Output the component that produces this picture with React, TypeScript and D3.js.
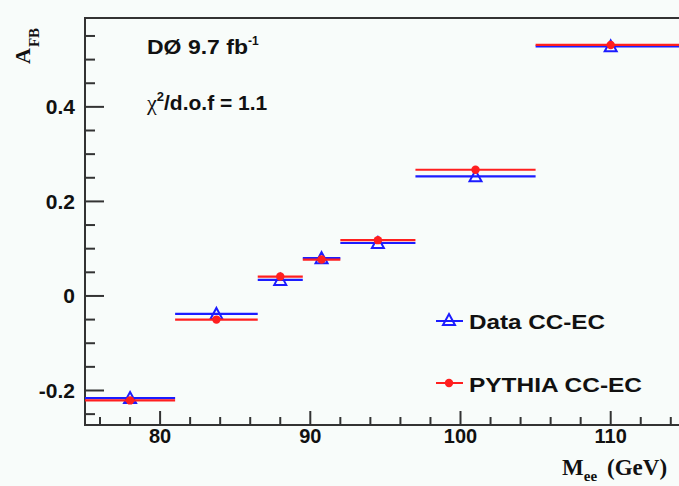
import { useEffect, useRef } from "react";
import * as d3 from "d3";

// bin edges in M_ee (GeV) and the measured / simulated A_FB per bin
const binEdges = [75, 81, 86.5, 89.5, 92, 97, 105, 115];
const binCenters = [78, 83.75, 88, 90.75, 94.5, 101, 110];
const dataAfb = [-0.216, -0.038, 0.034, 0.08, 0.112, 0.253, 0.528];
const pythiaAfb = [-0.221, -0.05, 0.041, 0.077, 0.118, 0.267, 0.531];
const xMajorTicks = [80, 90, 100, 110];
const yMajorTicks = [-0.2, 0, 0.2, 0.4];
const yTickLabels = ["-0.2", "0", "0.2", "0.4"];

const W = 679;
const H = 486;
const BLUE = "#1c1cff";
const RED = "#ff1f1f";
const SANS = "'Liberation Sans', Arial, Helvetica, sans-serif";
const SERIF = "'Liberation Serif', 'Times New Roman', serif";

export default function App() {
  const ref = useRef<SVGSVGElement | null>(null);

  useEffect(() => {
    if (!ref.current) return;
    const svg = d3.select(ref.current);
    svg.selectAll("*").remove();

    const left = 85, top = 18, bottom = 425;
    const x = d3.scaleLinear().domain([75, 115]).range([left, left + 40 * 15.02]);
    const y = d3.scaleLinear().domain([-0.273, 0.588]).range([bottom, top]);

    svg.append("rect").attr("width", W).attr("height", H).attr("fill", "#f8fcfa");

    // frame
    const axisColor = "#333";
    svg.append("line").attr("x1", left).attr("x2", W).attr("y1", top).attr("y2", top)
      .attr("stroke", axisColor).attr("stroke-width", 2);
    svg.append("line").attr("x1", left).attr("x2", W).attr("y1", bottom).attr("y2", bottom)
      .attr("stroke", axisColor).attr("stroke-width", 2);
    svg.append("line").attr("x1", left).attr("x2", left).attr("y1", top - 1).attr("y2", bottom + 1)
      .attr("stroke", axisColor).attr("stroke-width", 2);

    // y ticks
    const yMinor = d3.range(-0.25, 0.5501, 0.05).map(v => Math.round(v * 100) / 100);
    svg.append("g").selectAll("line").data(yMinor).join("line")
      .attr("x1", left).attr("y1", d => y(d)).attr("y2", d => y(d))
      .attr("x2", d => (yMajorTicks.some(m => Math.abs(m - d) < 1e-6) ? left + 19 : left + 10))
      .attr("stroke", axisColor).attr("stroke-width", 2);
    svg.append("g").selectAll("text").data(yMajorTicks).join("text")
      .attr("x", 75).attr("y", d => y(d) + 7.5)
      .attr("text-anchor", "end").attr("font-family", SANS).attr("font-weight", "bold")
      .attr("font-size", 21).attr("fill", "#111")
      .text((_, i) => yTickLabels[i]);

    // x ticks
    const xMinor = d3.range(76, 115, 2);
    svg.append("g").selectAll("line").data(xMinor).join("line")
      .attr("x1", d => x(d)).attr("x2", d => x(d)).attr("y1", bottom)
      .attr("y2", d => (d % 10 === 0 ? bottom - 14 : bottom - 8))
      .attr("stroke", axisColor).attr("stroke-width", 2);
    svg.append("g").selectAll("text").data(xMajorTicks).join("text")
      .attr("x", d => x(d)).attr("y", 443)
      .attr("text-anchor", "middle").attr("font-family", SANS).attr("font-weight", "bold")
      .attr("font-size", 20).attr("fill", "#111")
      .text(d => String(d));

    // series
    const drawSeries = (vals: number[], color: string, marker: "tri" | "dot") => {
      const g = svg.append("g");
      g.selectAll("line").data(vals).join("line")
        .attr("x1", (_, i) => x(binEdges[i])).attr("x2", (_, i) => x(binEdges[i + 1]))
        .attr("y1", d => y(d)).attr("y2", d => y(d))
        .attr("stroke", color).attr("stroke-width", 2.2);
      if (marker === "tri") {
        g.selectAll("path").data(vals).join("path")
          .attr("d", "M0,-6 L6,5 L-6,5 Z")
          .attr("transform", (d, i) => `translate(${x(binCenters[i])},${y(d)})`)
          .attr("fill", "none").attr("stroke", color).attr("stroke-width", 2);
      } else {
        g.selectAll("circle").data(vals).join("circle")
          .attr("cx", (_, i) => x(binCenters[i])).attr("cy", d => y(d)).attr("r", 4.2)
          .attr("fill", color);
      }
    };
    drawSeries(dataAfb, BLUE, "tri");
    drawSeries(pythiaAfb, RED, "dot");

    // legend
    const lx1 = 436, lx2 = 463, lmx = 449;
    svg.append("line").attr("x1", lx1).attr("x2", lx2).attr("y1", 321).attr("y2", 321)
      .attr("stroke", BLUE).attr("stroke-width", 2);
    svg.append("path").attr("d", "M0,-6 L6,5 L-6,5 Z").attr("transform", `translate(${lmx},320)`)
      .attr("fill", "none").attr("stroke", BLUE).attr("stroke-width", 2);
    svg.append("line").attr("x1", lx1).attr("x2", lx2).attr("y1", 383).attr("y2", 383)
      .attr("stroke", RED).attr("stroke-width", 2);
    svg.append("circle").attr("cx", lmx).attr("cy", 383).attr("r", 4.2).attr("fill", RED);
    const legendText = (label: string, yy: number, len: number) =>
      svg.append("text").attr("x", 469).attr("y", yy).attr("font-family", SANS)
        .attr("font-weight", "bold").attr("font-size", 21).attr("fill", "#111")
        .attr("textLength", len).attr("lengthAdjust", "spacingAndGlyphs").text(label);
    legendText("Data CC-EC", 328.5, 136);
    legendText("PYTHIA CC-EC", 392, 173);

    // annotations
    const t1 = svg.append("text").attr("x", 147).attr("y", 53.5).attr("font-family", SANS)
      .attr("font-weight", "bold").attr("font-size", 21).attr("fill", "#111");
    t1.append("tspan").attr("textLength", 101).attr("lengthAdjust", "spacingAndGlyphs").text("DØ 9.7 fb");
    t1.append("tspan").attr("font-size", 12).attr("dy", -9).text("-1");

    const t2 = svg.append("text").attr("x", 147).attr("y", 110).attr("font-family", SANS)
      .attr("font-weight", "bold").attr("font-size", 21).attr("fill", "#111");
    t2.append("tspan").attr("font-family", SERIF).attr("font-weight", "normal").attr("font-size", 22).text("χ");
    t2.append("tspan").attr("font-size", 13).attr("dy", -9).text("2");
    t2.append("tspan").attr("dy", 9).text("/d.o.f = 1.1");

    // axis titles
    const yt = svg.append("text").attr("transform", "translate(30,64) rotate(-90)")
      .attr("font-family", SERIF).attr("font-weight", "bold").attr("font-size", 22).attr("fill", "#111");
    yt.append("tspan").text("A");
    yt.append("tspan").attr("font-size", 15).attr("dy", 9).attr("dx", 1).text("FB");

    const xt = svg.append("text").attr("x", 562).attr("y", 475)
      .attr("font-family", SERIF).attr("font-weight", "bold").attr("font-size", 23).attr("fill", "#111");
    xt.append("tspan").text("M");
    xt.append("tspan").attr("font-size", 15).attr("dy", 6).text("ee");
    xt.append("tspan").attr("dy", -6).attr("dx", 10).text("(GeV)");
  }, []);

  return (
    <svg ref={ref} width={W} height={H}
      style={{ position: "absolute", left: 0, top: 0, display: "block" }} />
  );
}
